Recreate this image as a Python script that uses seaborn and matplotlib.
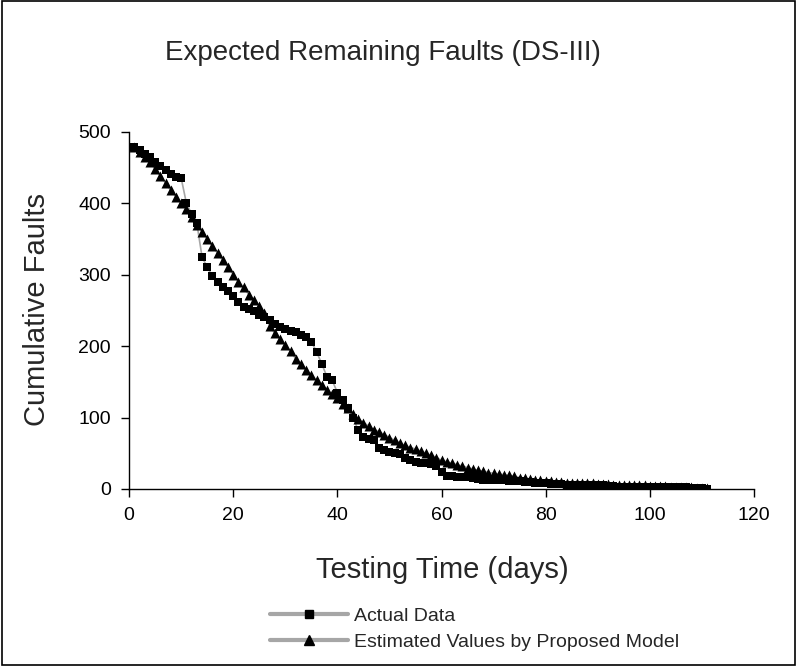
import numpy as np
import pandas as pd
import matplotlib
matplotlib.use("Agg")
import matplotlib.pyplot as plt
from matplotlib.lines import Line2D
from matplotlib.patches import Rectangle
import seaborn as sns

# ==================== data ====================
days = list(range(1, 112))

actual = [478, 474, 469, 464, 458, 452, 447, 441, 436, 435,
          400, 385, 372, 325, 310, 298, 290, 283, 277, 270,
          262, 255, 252, 249, 244, 240, 236, 231, 227, 224,
          221, 219, 216, 212, 206, 192, 175, 157, 152, 135,
          124, 114, 100, 82, 73, 70, 68, 58, 54, 52,
          50, 49, 44, 40, 38, 37, 36, 35, 32, 24,
          18, 18, 17, 17, 17, 16, 14, 13, 13, 12,
          12, 12, 11, 11, 11, 10, 10, 8, 8, 8,
          7, 7, 7, 6, 6, 6, 6, 5, 5, 5,
          5, 4, 4, 3, 3, 3, 3, 3, 3, 3,
          3, 3, 3, 3, 3, 3, 3, 2, 2, 2, 0]

estimated = [478, 472, 465, 457, 448, 438, 428, 418, 409, 400,
             392, 381, 370, 360, 350, 340, 330, 320, 311, 300,
             290, 282, 272, 264, 256, 246, 228, 218, 210, 201,
             193, 182, 175, 166, 160, 152, 146, 138, 133, 127,
             119, 113, 105, 98, 93, 88, 83, 80, 76, 72,
             68, 64, 61, 58, 56, 53, 50, 47, 44, 40,
             38, 36, 34, 32, 30, 28, 26, 25, 23, 22,
             21, 20, 19, 18, 16, 15, 14, 13, 12, 11,
             11, 10, 10, 9, 9, 9, 8, 8, 8, 7,
             7, 7, 6, 6, 6, 5, 5, 5, 5, 4,
             4, 4, 4, 3, 3, 3, 3, 3, 2, 2, 1]

series_names = ["Actual Data", "Estimated Values by Proposed Model"]
x_ticks = [0, 20, 40, 60, 80, 100, 120]
y_ticks = [0, 100, 200, 300, 400, 500]

df_act = pd.DataFrame({"day": days, "faults": actual})
df_est = pd.DataFrame({"day": days, "faults": estimated})

# ==================== plot ====================
sns.set_theme(style="white")
plt.rcParams['font.family'] = ['Liberation Sans', 'DejaVu Sans']

fig = plt.figure(figsize=(7.97, 6.66), dpi=100)
ax = fig.add_axes([0.162, 0.2658, 0.784, 0.5365])

LINE_GRAY = "#a6a6a6"

for d, mk, ms in [(df_act, "s", 40), (df_est, "^", 52)]:
    sns.lineplot(data=d, x="day", y="faults", color=LINE_GRAY, lw=1.2,
                 ax=ax, legend=False, zorder=2)
    sns.scatterplot(data=d, x="day", y="faults", marker=mk, s=ms, color="black",
                    edgecolor="black", linewidth=0, ax=ax, legend=False, zorder=3)

ax.set_xlim(0, 120)
ax.set_ylim(0, 500)
ax.set_xticks(x_ticks)
ax.set_yticks(y_ticks)
ax.tick_params(axis="both", labelsize=14, direction="out", length=6, width=1,
               colors="black", bottom=True, left=True, pad=7)
for s in ["top", "right"]:
    ax.spines[s].set_visible(False)
for s in ["left", "bottom"]:
    ax.spines[s].set_color("black")
    ax.spines[s].set_linewidth(1)

ax.set_xlabel("")
ax.set_ylabel("")
fig.text(0.555, 0.144, "Testing Time (days)", fontsize=21, ha="center", va="center")
fig.text(0.046, 0.535, "Cumulative Faults", fontsize=21, ha="center", va="center",
         rotation=90)
fig.text(0.48, 0.92, "Expected Remaining Faults (DS-III)", fontsize=20,
         ha="center", va="center")

handles = [
    Line2D([], [], color=LINE_GRAY, lw=3, marker="s", markersize=6,
           markerfacecolor="black", markeredgecolor="black"),
    Line2D([], [], color=LINE_GRAY, lw=3, marker="^", markersize=7,
           markerfacecolor="black", markeredgecolor="black"),
]
fig.legend(handles, series_names, loc="center left",
           bbox_to_anchor=(0.339, 0.0556), frameon=False, fontsize=14,
           handlelength=4.0, handletextpad=0.3, borderpad=0,
           borderaxespad=0, labelspacing=0.45)

# outer border like the source chart
fig.patches.append(Rectangle((0.002, 0.002), 0.996, 0.996, transform=fig.transFigure,
                             fill=False, edgecolor="black", lw=1.2))

fig.savefig("out.png", dpi=100)
